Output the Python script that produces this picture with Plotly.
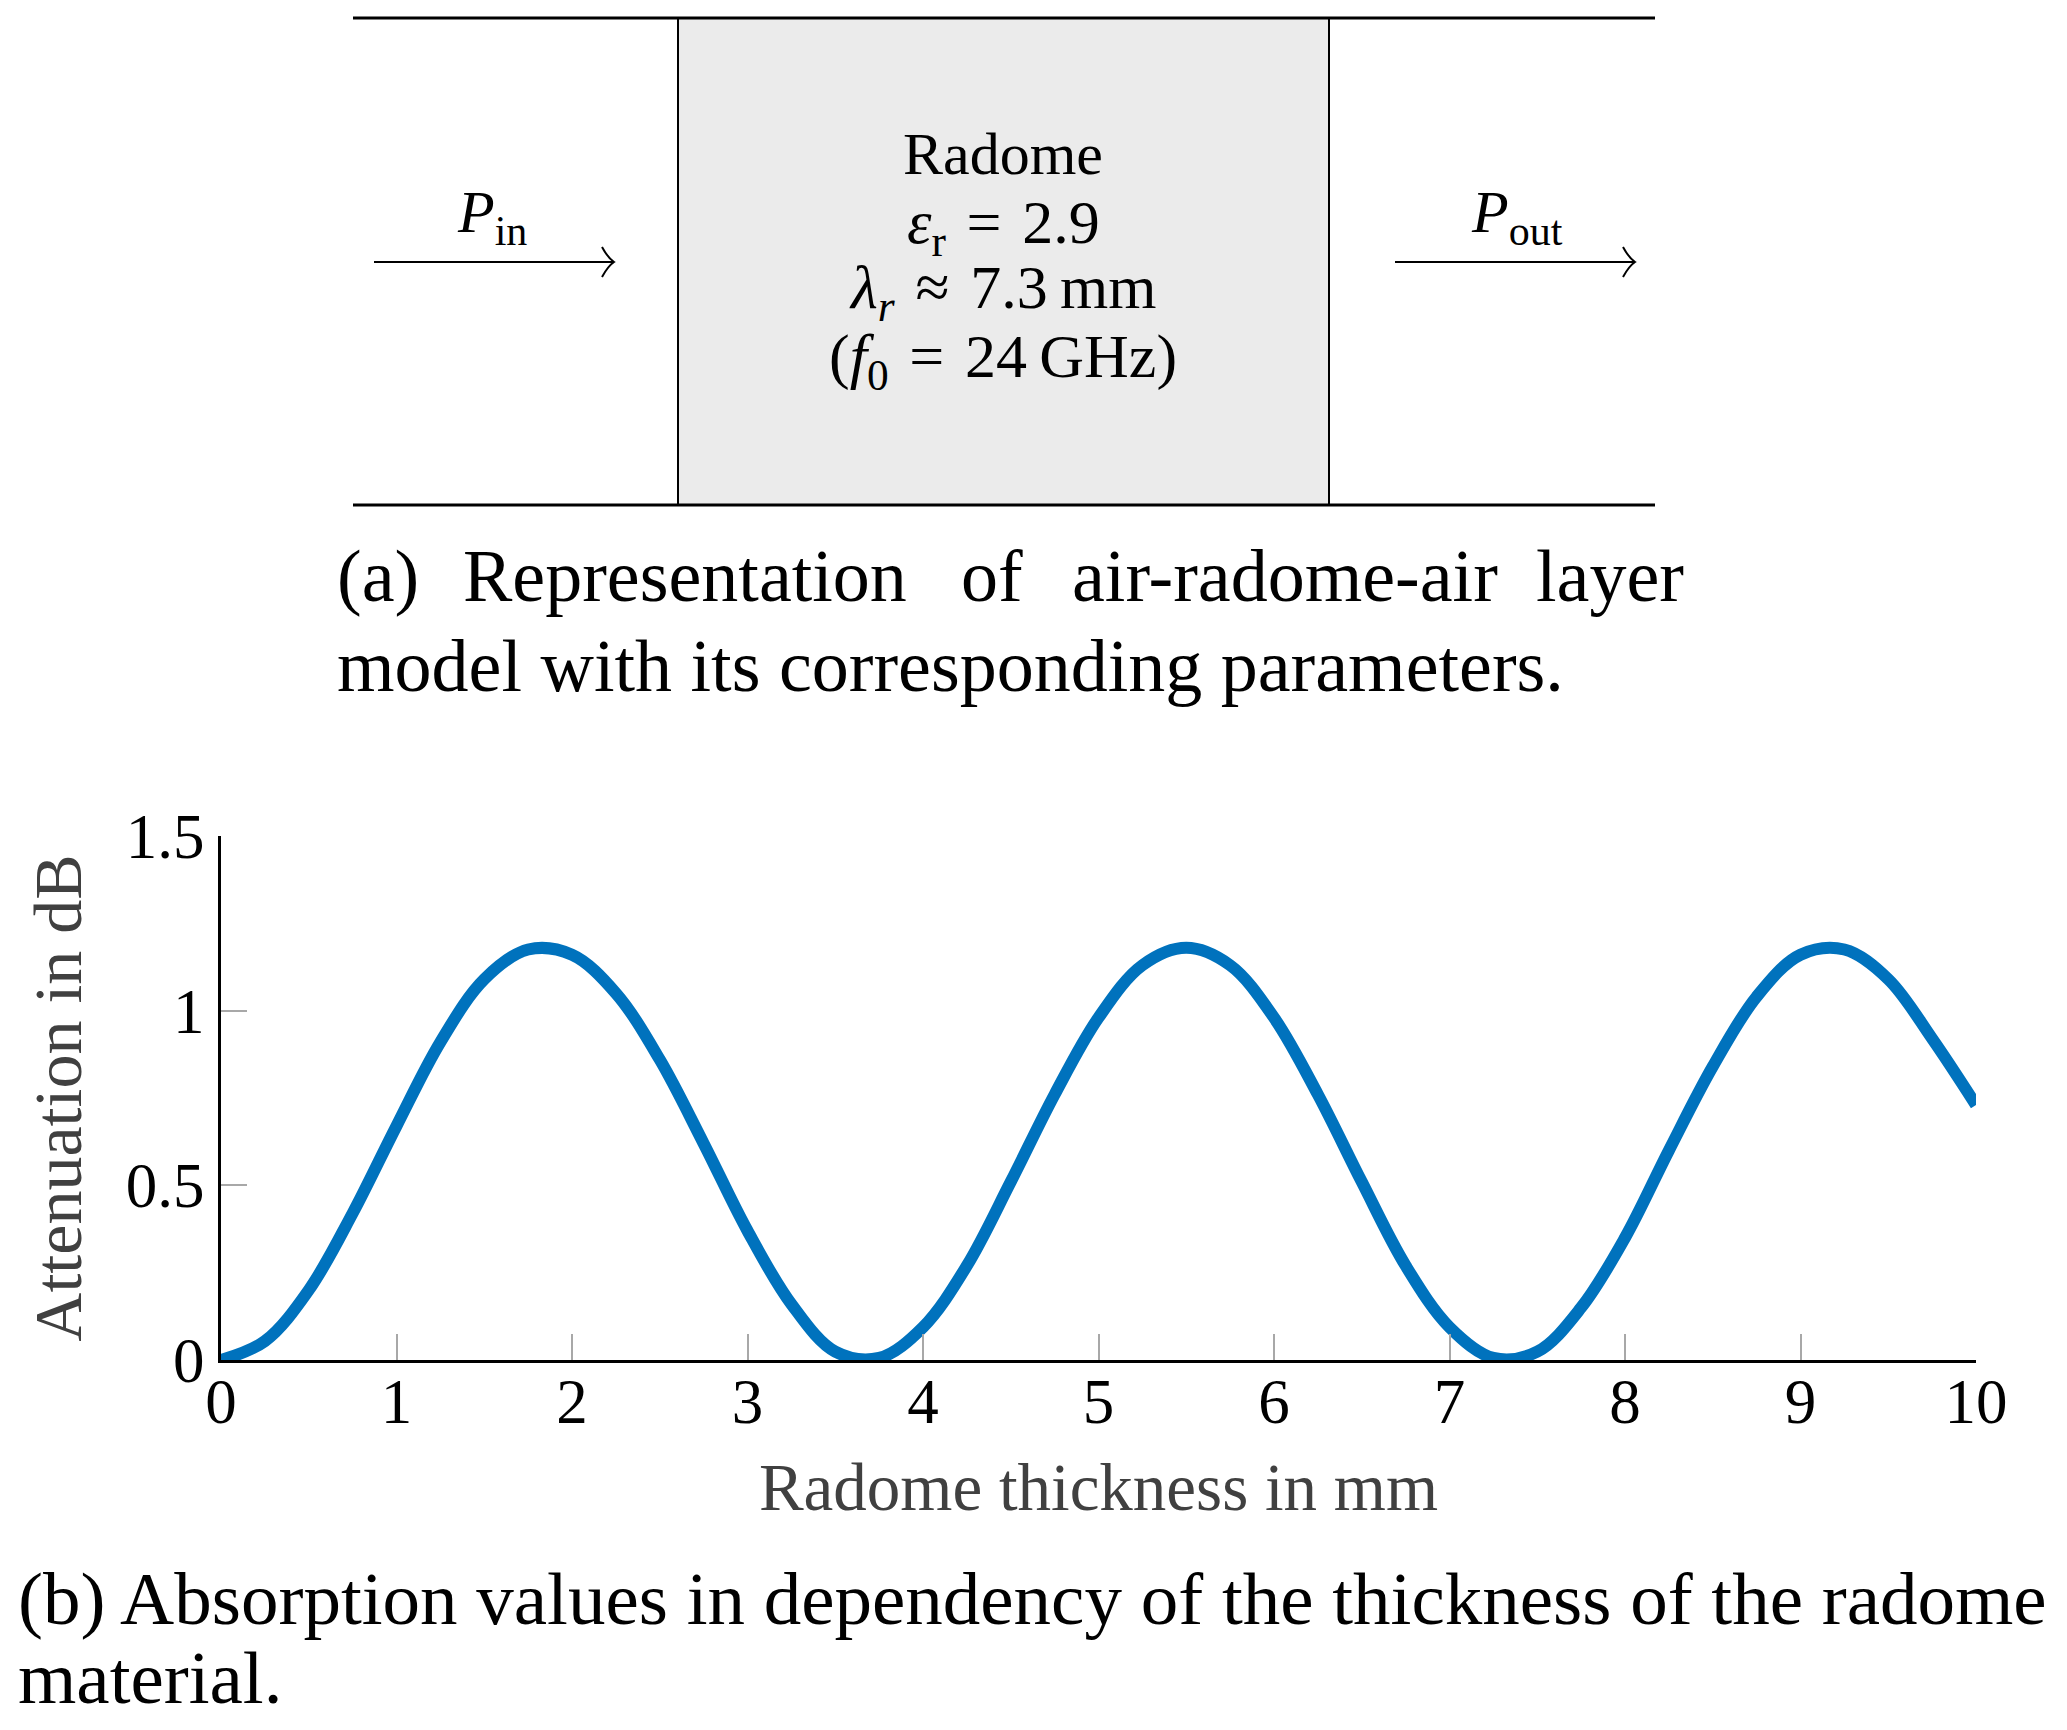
import plotly.graph_objects as go

W, H = 2067, 1730
PAGE_PAD = 8  # default body margin of the html page

# radome thickness in mm vs attenuation in dB
thickness = [0, 0.25, 0.5, 0.75, 1.0, 1.25, 1.5, 1.75, 2.0, 2.25, 2.5, 2.75, 3.0, 3.25, 3.5, 3.75,
             4.0, 4.25, 4.5, 4.75, 5.0, 5.25, 5.5, 5.75, 6.0, 6.25, 6.5, 6.75, 7.0, 7.25, 7.5,
             7.75, 8.0, 8.25, 8.5, 8.75, 9.0, 9.25, 9.5, 9.75, 10.0]
attenuation = [0.00, 0.054, 0.20, 0.42, 0.67, 0.91, 1.09, 1.175, 1.16, 1.05, 0.86, 0.62, 0.37, 0.16, 0.024, 0.006,
               0.094, 0.27, 0.51, 0.76, 0.98, 1.13, 1.18, 1.13, 0.98, 0.76, 0.51, 0.27, 0.094, 0.006, 0.024,
               0.15, 0.35, 0.60, 0.84, 1.04, 1.16, 1.175, 1.09, 0.92, 0.73]

x_ticks = [0, 1, 2, 3, 4, 5, 6, 7, 8, 9, 10]
y_ticks = [0, 0.5, 1, 1.5]
y_tick_text = ['0', '0.5', '1', '1.5']

SP = '\u2004'
diagram_lines = ['Radome',
                 f'<i>ε</i><sub>r</sub>{SP}={SP}2.9',
                 f'<i>λ</i><sub><i>r</i></sub>{SP}≈{SP}7.3\u2009mm',
                 f'(<i>f</i><sub>0</sub>{SP}={SP}24\u2009GHz)']
caption_a_words = ['(a)', 'Representation', 'of', 'air-radome-air', 'layer']
caption_a_line2 = 'model with its corresponding parameters.'
caption_b_line1 = '(b) Absorption values in dependency of the thickness of the radome'
caption_b_line2 = 'material.'

SERIF = 'Liberation Serif, Times New Roman, serif'


def px(x):
    return (x - PAGE_PAD) / W


def py(y):
    return 1 - (y - PAGE_PAD) / H


fig = go.Figure(go.Scatter(
    x=thickness, y=attenuation, mode='lines',
    line=dict(color='#0072BD', width=12, shape='spline', smoothing=1.0),
    showlegend=False, hoverinfo='skip'
))

axis_common = dict(showline=True, linecolor='black', linewidth=3, mirror=False,
                   ticks='inside', tickcolor='#a8a8a8', tickwidth=2, ticklen=26,
                   showgrid=False, zeroline=False, automargin=False,
                   tickfont=dict(family=SERIF, size=63, color='black'))

fig.update_layout(
    width=W, height=H,
    margin=dict(l=0, r=0, t=0, b=0),
    paper_bgcolor='white', plot_bgcolor='white',
    xaxis=dict(domain=[px(221), px(1976)], range=[0, 10], tickvals=x_ticks,
               ticklabelstandoff=-16,
               title=dict(text='Radome thickness in mm', standoff=28,
                          font=dict(family=SERIF, size=67, color='#404040')),
               **axis_common),
    yaxis=dict(domain=[py(1360), py(836)], range=[0, 1.5], tickvals=y_ticks, ticktext=y_tick_text,
               ticklabelstandoff=1,
               title=dict(text='Attenuation in dB', standoff=22,
                          font=dict(family=SERIF, size=68, color='#404040')),
               **axis_common),
)

shapes = []
# radome box between the two air layers
shapes.append(dict(type='rect', xref='paper', yref='paper', x0=px(678), x1=px(1329), y0=py(505), y1=py(18),
                   fillcolor='#ebebeb', line=dict(color='black', width=2), layer='below'))
for yy in (18, 505):
    shapes.append(dict(type='line', xref='paper', yref='paper', x0=px(353), x1=px(1655), y0=py(yy), y1=py(yy),
                       line=dict(color='black', width=3)))
# power arrows
for x0, x1 in ((374, 614), (1395, 1635)):
    yy = 262
    shapes.append(dict(type='line', xref='paper', yref='paper', x0=px(x0), x1=px(x1), y0=py(yy), y1=py(yy),
                       line=dict(color='black', width=2)))
    path = (f'M {px(x1 - 12)},{py(yy - 15)} Q {px(x1 - 6)},{py(yy - 4)} {px(x1)},{py(yy)} '
            f'Q {px(x1 - 6)},{py(yy + 4)} {px(x1 - 12)},{py(yy + 15)}')
    shapes.append(dict(type='path', xref='paper', yref='paper', path=path,
                       line=dict(color='black', width=2)))
fig.update_layout(shapes=shapes)

ann = []


def text(s, x, y, size, xanchor='center', color='black'):
    ann.append(dict(text=s, x=px(x), y=py(y), xref='paper', yref='paper', xanchor=xanchor, yanchor='middle',
                    showarrow=False, font=dict(family=SERIF, size=size, color=color)))


text(diagram_lines[0], 1003, 154, 60)
for s, yy in zip(diagram_lines[1:], (226, 291, 360)):
    text(s, 1003, yy, 62)
text('<i>P</i><sub>in</sub>', 492, 217, 60)
text('<i>P</i><sub>out</sub>', 1517, 217, 60)

for w, xx in zip(caption_a_words, (335, 461, 959, 1070, 1534)):
    text(w, xx, 576, 74, xanchor='left')
text(caption_a_line2, 335, 666, 74, xanchor='left')
text(caption_b_line1, 16, 1598, 75, xanchor='left')
text(caption_b_line2, 16, 1677, 75, xanchor='left')

fig.update_layout(annotations=ann)

fig.write_html('out.html')
